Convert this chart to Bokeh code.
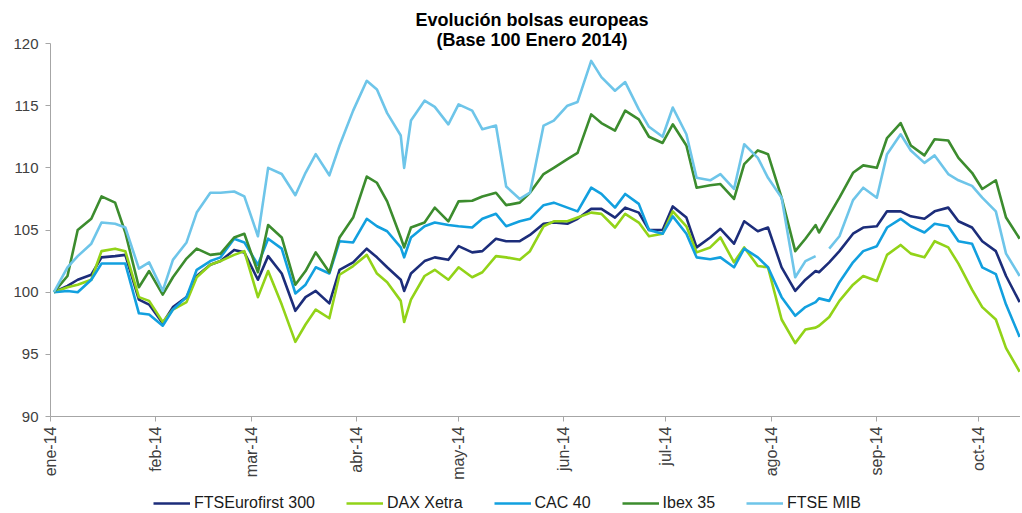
import math
import pandas as pd
from bokeh.plotting import figure
from bokeh.layouts import column
from bokeh.models import (ColumnDataSource, Range1d, FixedTicker, CustomJSTickFormatter,
                          Legend, LegendItem, Label)
from bokeh.embed import file_html
from bokeh.resources import INLINE

nan = float("nan")

title_lines = ["Evolución bolsas europeas", "(Base 100 Enero 2014)"]
series_names = ["FTSEurofirst 300", "DAX Xetra", "CAC 40", "Ibex 35", "FTSE MIB"]

month_ticks = ["2014-01-01", "2014-02-01", "2014-03-01", "2014-04-01", "2014-05-01",
               "2014-06-01", "2014-07-01", "2014-08-01", "2014-09-01", "2014-10-01"]
month_labels = ["ene-14", "feb-14", "mar-14", "abr-14", "may-14",
                "jun-14", "jul-14", "ago-14", "sep-14", "oct-14"]
y_ticks = [90, 95, 100, 105, 110, 115, 120]

dates = [
    "2014-01-02", "2014-01-06", "2014-01-09", "2014-01-13", "2014-01-16", "2014-01-20", "2014-01-23", "2014-01-27", "2014-01-30",
    "2014-02-03", "2014-02-06", "2014-02-10", "2014-02-13", "2014-02-17", "2014-02-20", "2014-02-24", "2014-02-27",
    "2014-03-03", "2014-03-06", "2014-03-10", "2014-03-14", "2014-03-17", "2014-03-20", "2014-03-24", "2014-03-27", "2014-03-31",
    "2014-04-04", "2014-04-07", "2014-04-10", "2014-04-14", "2014-04-15", "2014-04-17", "2014-04-21", "2014-04-24", "2014-04-28",
    "2014-05-01", "2014-05-05", "2014-05-08", "2014-05-12", "2014-05-15", "2014-05-19", "2014-05-22", "2014-05-26", "2014-05-29",
    "2014-06-02", "2014-06-05", "2014-06-09", "2014-06-12", "2014-06-16", "2014-06-19", "2014-06-23", "2014-06-26", "2014-06-30",
    "2014-07-03", "2014-07-07", "2014-07-10", "2014-07-14", "2014-07-17", "2014-07-21", "2014-07-24", "2014-07-28", "2014-07-31",
    "2014-08-04", "2014-08-08", "2014-08-11", "2014-08-14", "2014-08-15", "2014-08-18", "2014-08-21", "2014-08-25", "2014-08-28",
    "2014-09-01", "2014-09-04", "2014-09-08", "2014-09-11", "2014-09-15", "2014-09-18", "2014-09-22", "2014-09-25", "2014-09-29",
    "2014-10-02", "2014-10-06", "2014-10-09", "2014-10-13",
]

ftse_eurofirst = [
    100.0, 100.5, 101.0, 101.4, 102.8, 102.9, 103.0, 99.4, 99.0,
    97.5, 98.8, 99.6, 101.3, 102.2, 102.5, 103.4, 103.2,
    101.0, 102.9, 101.5, 98.5, 99.6, 100.1, 99.1, 101.8, 102.4,
    103.5, 102.8, 102.0, 101.0, 100.1, 101.5, 102.5, 102.8, 102.6,
    103.7, 103.2, 103.3, 104.3, 104.1, 104.1, 104.6, 105.5, 105.6,
    105.5, 105.9, 106.7, 106.7, 106.0, 106.8, 106.4, 105.0, 105.0,
    106.9, 106.0, 103.6, 104.4, 105.1, 103.9, 105.7, 104.9, 105.2,
    102.0, 100.1, 101.0, 101.7, 101.6, 102.4, 103.3, 104.7, 105.2,
    105.3, 106.5, 106.5, 106.1, 105.9, 106.5, 106.8, 105.7, 105.2,
    104.1, 103.3, 101.3, 99.2,
]

dax_xetra = [
    100.0, 100.4, 100.6, 101.0, 103.3, 103.5, 103.3, 99.6, 99.3,
    97.6, 98.6, 99.2, 101.2, 102.2, 102.5, 103.0, 103.3,
    99.6, 101.7, 99.0, 96.0, 97.4, 98.6, 97.9, 101.4, 102.1,
    103.0, 101.5, 100.8, 99.3, 97.6, 99.4, 101.3, 101.8, 101.0,
    102.0, 101.2, 101.6, 102.9, 102.8, 102.6, 103.3, 105.3, 105.7,
    105.7, 106.0, 106.4, 106.3, 105.2, 106.3, 105.6, 104.5, 104.7,
    106.5, 105.3, 103.2, 103.6, 104.4, 102.4, 103.6, 102.1, 102.0,
    97.8, 95.9, 97.0, 97.15, 97.3, 98.0, 99.3, 100.6, 101.3,
    100.9, 103.0, 103.8, 103.1, 102.8, 104.1, 103.6, 102.3, 100.2,
    98.8, 97.8, 95.5, 93.6,
]

cac_40 = [
    100.0, 100.1, 100.0, 101.0, 102.3, 102.3, 102.3, 98.3, 98.2,
    97.3, 98.6, 99.6, 101.8, 102.5, 102.8, 104.3, 104.0,
    102.2, 104.3, 103.5, 99.9, 100.6, 102.0, 101.5, 104.1, 104.0,
    105.9, 105.3, 104.9, 103.6, 102.8, 104.4, 105.3, 105.6, 105.4,
    105.3, 105.2, 105.9, 106.3, 105.3, 105.7, 105.9, 107.0, 107.2,
    106.8, 106.5, 108.4, 107.9, 106.8, 107.9, 107.1, 105.0, 104.7,
    106.1, 104.7, 102.8, 102.65, 102.8, 102.0, 103.5, 102.8, 102.0,
    99.6, 98.1, 98.8, 99.2, 99.5, 99.3, 100.8, 102.4, 103.3,
    103.7, 105.2, 105.9, 105.3, 104.8, 105.5, 105.3, 104.1, 103.9,
    102.0, 101.45, 99.0, 96.4,
]

ibex_35 = [
    100.0, 101.3, 105.0, 105.9, 107.7, 107.2, 104.8, 100.4, 101.7,
    99.8, 101.2, 102.7, 103.5, 103.0, 103.1, 104.4, 104.7,
    101.6, 105.4, 104.4, 100.6, 101.7, 103.2, 101.6, 104.4, 106.0,
    109.3, 108.8, 107.3, 104.4, 103.6, 105.2, 105.6, 106.8, 105.7,
    107.3, 107.35, 107.7, 108.0, 107.0, 107.2, 108.0, 109.5, 110.0,
    110.7, 111.2, 114.3, 113.6, 113.0, 114.6, 113.9, 112.5, 112.0,
    113.5, 111.8, 108.4, 108.6, 108.7, 107.5, 110.3, 111.4, 111.1,
    107.6, 103.3, 104.3, 105.4, 104.8, 106.2, 107.6, 109.6, 110.2,
    110.0, 112.4, 113.6, 111.8, 111.0, 112.3, 112.2, 110.8, 109.6,
    108.3, 109.0, 106.0, 104.3,
]

ftse_mib = [
    100.0, 102.0, 102.9, 103.9, 105.6, 105.5, 105.2, 101.9, 102.4,
    100.1, 102.6, 104.0, 106.4, 108.0, 108.0, 108.1, 107.7,
    104.5, 110.0, 109.5, 107.8, 109.6, 111.1, 109.4, 111.8, 114.6,
    117.0, 116.3, 114.4, 112.6, 110.0, 113.8, 115.4, 114.9, 113.5,
    115.1, 114.6, 113.1, 113.4, 108.5, 107.5, 108.0, 113.4, 113.8,
    115.0, 115.3, 118.6, 117.3, 116.2, 116.9, 114.7, 113.3, 112.5,
    114.85, 112.7, 109.2, 109.0, 109.5, 108.3, 111.9, 110.8, 109.2,
    107.6, 101.2, 102.5, 102.9, nan, 103.5, 104.5, 107.4, 108.4,
    107.6, 111.1, 112.7, 111.4, 110.4, 111.0, 109.5, 109.0, 108.55,
    107.6, 106.5, 103.1, 101.3,
]

colors = ["#1c2d7a", "#92d318", "#12a0df", "#3c8c2e", "#6ec5e9"]

FONT = "Liberation Sans"
AXIS_GRAY = "#a6a6a6"
LABEL_COLOR = "#404040"
LINE_W = 2.6

x_dates = pd.to_datetime(dates)
source = ColumnDataSource(data=dict(
    date=x_dates,
    s0=ftse_eurofirst, s1=dax_xetra, s2=cac_40, s3=ibex_35, s4=ftse_mib,
))

# frame spans page y 0..416 ; value 120 sits at y 43 (12.43 px per unit)
Y_MIN, Y_MAX = 90, 120
Y_TOP = Y_MAX + 43 / 12.43

p = figure(frame_width=970, frame_height=416, x_axis_type="datetime",
           output_backend="svg", toolbar_location=None,
           x_range=Range1d(pd.Timestamp("2014-01-01"), pd.Timestamp("2014-10-13 06:00")),
           y_range=Range1d(Y_MIN, Y_TOP))
p.min_border_left = 50
p.min_border_top = 0
p.min_border_right = 0
p.min_border_bottom = 0
p.outline_line_color = None
p.background_fill_color = "white"
p.border_fill_color = "white"
p.xgrid.visible = False
p.ygrid.visible = False

tick_ms = [pd.Timestamp(d).value // 10**6 for d in month_ticks]

# y axis
p.yaxis.ticker = FixedTicker(ticks=y_ticks)
p.yaxis.bounds = (Y_MIN, Y_MAX)
p.yaxis.minor_tick_line_color = None
p.yaxis.axis_line_color = AXIS_GRAY
p.yaxis.major_tick_line_color = AXIS_GRAY
p.yaxis.major_tick_out = 5
p.yaxis.major_tick_in = 0
p.yaxis.major_label_standoff = 7
p.yaxis.major_label_text_font = FONT
p.yaxis.major_label_text_font_size = "15px"
p.yaxis.major_label_text_color = LABEL_COLOR

# x axis
p.xaxis.ticker = FixedTicker(ticks=tick_ms)
p.xaxis.formatter = CustomJSTickFormatter(
    args=dict(vals=tick_ms, labels=month_labels),
    code="""
const i = vals.findIndex(v => Math.abs(v - tick) < 1000);
return i < 0 ? "" : labels[i];
""")
p.xaxis.minor_tick_line_color = None
p.xaxis.axis_line_color = AXIS_GRAY
p.xaxis.major_tick_line_color = AXIS_GRAY
p.xaxis.major_tick_out = 5
p.xaxis.major_tick_in = 0
p.xaxis.major_label_standoff = 5
p.xaxis.major_label_orientation = math.pi / 2
p.xaxis.major_label_text_font = FONT
p.xaxis.major_label_text_font_size = "16px"
p.xaxis.major_label_text_color = LABEL_COLOR

for i, name in enumerate(series_names):
    p.line(x="date", y=f"s{i}", source=source, line_color=colors[i], line_width=LINE_W,
           line_join="round")

# two-line title, placed in screen units relative to the frame (frame bottom = page y 416)
for txt, yy in zip(title_lines, [397, 377]):
    p.add_layout(Label(x=481.5, y=yy, x_units="screen", y_units="screen", text=txt,
                       text_align="center", text_baseline="alphabetic",
                       text_font=FONT, text_font_style="bold", text_font_size="18px",
                       text_color="#000000"))

# legend strip below the chart: same series drawn into a small figure whose ranges
# keep them out of view, so only their legend swatches show
leg = figure(width=1020, height=30, output_backend="svg", toolbar_location=None,
             x_axis_location=None, y_axis_location=None,
             x_range=Range1d(0, 1), y_range=Range1d(0, 1), min_border=0)
leg.outline_line_color = None
leg.xgrid.visible = False
leg.ygrid.visible = False
proxies = [leg.line(x="date", y=f"s{i}", source=source, line_color=colors[i], line_width=LINE_W)
           for i in range(len(series_names))]
legend = Legend(items=[LegendItem(label=n, renderers=[r]) for n, r in zip(series_names, proxies)],
                orientation="horizontal", location=(103, 0))
legend.glyph_width = 37
legend.glyph_height = 18
legend.label_standoff = 4
legend.spacing = 31
legend.padding = 0
legend.margin = 0
legend.border_line_color = None
legend.background_fill_alpha = 0
legend.label_text_font = FONT
legend.label_text_font_size = "16px"
legend.label_text_color = "#1a1a1a"
legend.label_height = 18
leg.add_layout(legend, "center")

layout = column(p, leg, spacing=0)
open("out.html", "w").write(file_html(layout, INLINE))
